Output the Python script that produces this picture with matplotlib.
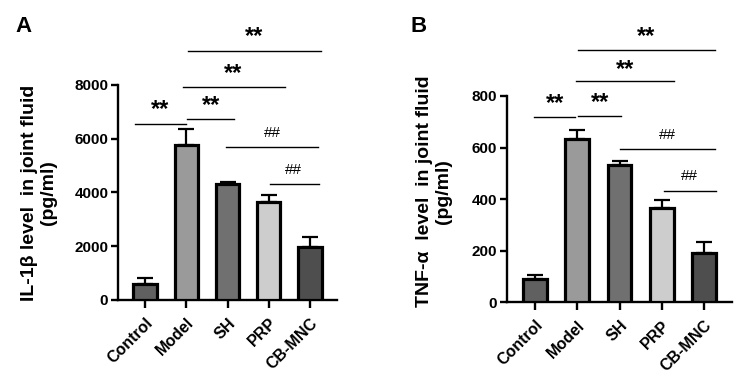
import matplotlib
matplotlib.use("Agg")
import matplotlib.pyplot as plt
import numpy as np

plt.rcParams['font.family'] = ['Liberation Sans', 'DejaVu Sans']
plt.rcParams['font.weight'] = 'bold'

groups = ["Control", "Model", "SH", "PRP", "CB-MNC"]
colors = ["#606060", "#9a9a9a", "#707070", "#cdcdcd", "#4e4e4e"]

il1b_mean = [580, 5780, 4310, 3650, 1990]
il1b_err = [250, 600, 90, 270, 370]
tnf_mean = [90, 632, 532, 366, 190]
tnf_err = [17, 36, 16, 31, 45]

# comparisons: (x_start, x_end, line_y, text, text_x, text_y)
il1b_sig = [
    (-0.24, 0.99, 6550, "**", 0.36, 7070),
    (1.02, 2.16, 6750, "**", 1.60, 7220),
    (0.92, 3.39, 7910, "**", 2.13, 8410),
    (1.04, 4.27, 9280, "**", 2.64, 9790),
    (1.96, 4.19, 5700, "##", 3.08, 6214),
    (3.03, 4.22, 4330, "##", 3.61, 4837),
]
tnf_sig = [
    (-0.02, 0.96, 717, "**", 0.47, 772),
    (1.02, 2.04, 722, "**", 1.53, 776),
    (0.97, 3.28, 858, "**", 2.13, 904),
    (1.02, 4.25, 980, "**", 2.63, 1032),
    (2.01, 4.25, 593, "##", 3.12, 648),
    (3.05, 4.28, 431, "##", 3.66, 489),
]

fig = plt.figure(figsize=(7.44, 3.86), dpi=100)
axA = fig.add_axes([0.1586, 0.2228, 0.2944, 0.557])
axB = fig.add_axes([0.6815, 0.2168, 0.3024, 0.5345])


def draw(ax, means, errs, ymax, yticks, ylabel, sig, labx, laby):
    x = np.arange(len(groups))
    ax.bar(x, means, width=0.56, color=colors, edgecolor="black", linewidth=2.3, zorder=3)
    ax.errorbar(x, means, yerr=[np.zeros(len(errs)), errs], fmt="none", ecolor="black",
                elinewidth=1.6, capsize=5.5, capthick=1.6, zorder=2)
    ax.set_xlim(-0.655, 4.655)
    ax.set_ylim(0, ymax)
    ax.set_yticks(yticks)
    ax.set_xticks(x)
    ax.set_xticklabels(groups, rotation=45, ha="right", rotation_mode="anchor",
                       fontsize=11.5, fontweight="bold")
    for lab in ax.get_yticklabels():
        lab.set_fontsize(11)
        lab.set_fontweight("bold")
    for s in ["top", "right"]:
        ax.spines[s].set_visible(False)
    for s in ["left", "bottom"]:
        ax.spines[s].set_linewidth(1.7)
    ax.tick_params(axis="y", length=5, width=1.7, pad=2)
    ax.tick_params(axis="x", length=6, width=1.7, pad=5)
    ax.set_ylabel(ylabel, fontsize=14, fontweight="bold", va="center", ha="center",
                  linespacing=1.1)
    ax.yaxis.set_label_coords(labx, laby)
    for x0, x1, ly, txt, tx, ty in sig:
        ax.plot([x0, x1], [ly, ly], color="black", lw=1.0, clip_on=False)
        if txt == "**":
            ax.text(tx, ty, txt, ha="center", va="center", fontsize=17, fontweight="bold")
        else:
            ax.text(tx, ty, txt, ha="center", va="center", fontsize=11, fontweight="normal")


draw(axA, il1b_mean, il1b_err, 8000, [0, 2000, 4000, 6000, 8000],
     "IL-1β level  in joint fluid\n(pg/ml)", il1b_sig, -0.36, 0.50)
draw(axB, tnf_mean, tnf_err, 800, [0, 200, 400, 600, 800],
     "TNF-α  level  in joint fluid\n(pg/ml)", tnf_sig, -0.325, 0.537)

fig.text(23 / 744, 1 - 26 / 386, "A", fontsize=16, fontweight="bold", ha="center", va="center")
fig.text(419 / 744, 1 - 26 / 386, "B", fontsize=16, fontweight="bold", ha="center", va="center")

fig.savefig("out.png", dpi=100)
